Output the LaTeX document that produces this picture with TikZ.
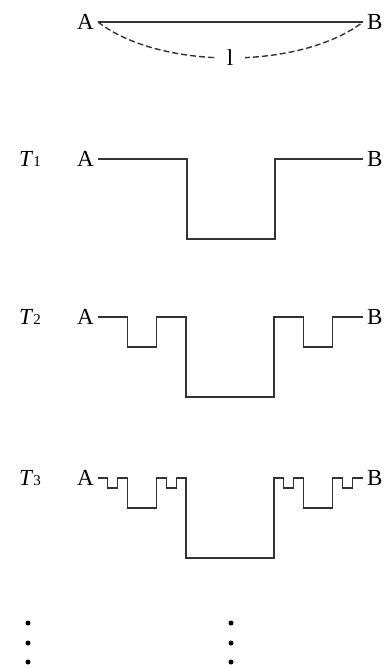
\documentclass[tikz,border=0pt]{standalone}
\usepackage{fontspec}
\setmainfont{Liberation Serif}
\usepackage{tikz}
\usetikzlibrary{positioning}
\definecolor{curvegray}{HTML}{333333}

% one dip of the construction at each level (width and depth)
\newcommand{\dipone}{-- ++(0,80) -- ++(88,0) -- ++(0,-80)}
\newcommand{\diptwo}{-- ++(0,30) -- ++(29.33,0) -- ++(0,-30)}
\newcommand{\dipthree}{-- ++(0,10) -- ++(9.78,0) -- ++(0,-10)}
\newcommand{\tlabel}[1]{\textit{T}{\fontsize{15}{15}\selectfont #1}}

\begin{document}
\begin{tikzpicture}[x=1pt,y=-1pt,
 endpt/.style={font=\fontsize{23}{26}\selectfont,inner xsep=4pt,inner ysep=1pt},
 tname/.style={font=\fontsize{23}{26}\selectfont,inner sep=0pt,anchor=base east},
 curve/.style={draw=curvegray,line width=1.3pt,line join=miter},
 chord/.style={draw=curvegray,line width=1.4pt,dash pattern=on 6pt off 3pt},
 dot/.style={fill=black}]
\useasboundingbox (0,0) rectangle (391,668);

% Segment AB and the limit curve of length l
\node[endpt,anchor=east] (a0) at (98,22) {A};
\node[endpt,anchor=west] (b0) at (363,22) {B};
\draw[curve] (a0.east) -- (b0.west);
\draw[chord] (a0.east) .. controls (160,70) and (300,70) ..
 node[fill=white,inner xsep=12pt,inner ysep=0pt,font=\fontsize{23}{26}\selectfont] (len) {l} (b0.west);

% T1
\node[endpt,anchor=east] (a1) at (98,159) {A};
\node[endpt,anchor=west] (b1) at (363,159) {B};
\node[tname,left=32pt of a1.base west,anchor=base east] (t1) {\tlabel{1}};
\draw[curve] (a1.east) -- ++(89,0) \dipone -- (b1.west);

% T2
\node[endpt,anchor=east] (a2) at (98,317) {A};
\node[endpt,anchor=west] (b2) at (363,317) {B};
\node[tname,left=32pt of a2.base west,anchor=base east] (t2) {\tlabel{2}};
\draw[curve] (a2.east) -- ++(29.33,0) \diptwo -- ++(29.33,0) \dipone
 -- ++(29.33,0) \diptwo -- (b2.west);

% T3
\node[endpt,anchor=east] (a3) at (98,478) {A};
\node[endpt,anchor=west] (b3) at (363,478) {B};
\node[tname,left=32pt of a3.base west,anchor=base east] (t3) {\tlabel{3}};
\draw[curve] (a3.east) -- ++(9.78,0) \dipthree -- ++(9.78,0) \diptwo
 -- ++(9.78,0) \dipthree -- ++(9.78,0) \dipone
 -- ++(9.78,0) \dipthree -- ++(9.78,0) \diptwo
 -- ++(9.78,0) \dipthree -- (b3.west);

% and so on
\foreach \y in {623,643,662} {
 \fill[dot] (28,\y) circle (2.5);
 \fill[dot] (231,\y) circle (2.5);
}
\end{tikzpicture}
\end{document}
